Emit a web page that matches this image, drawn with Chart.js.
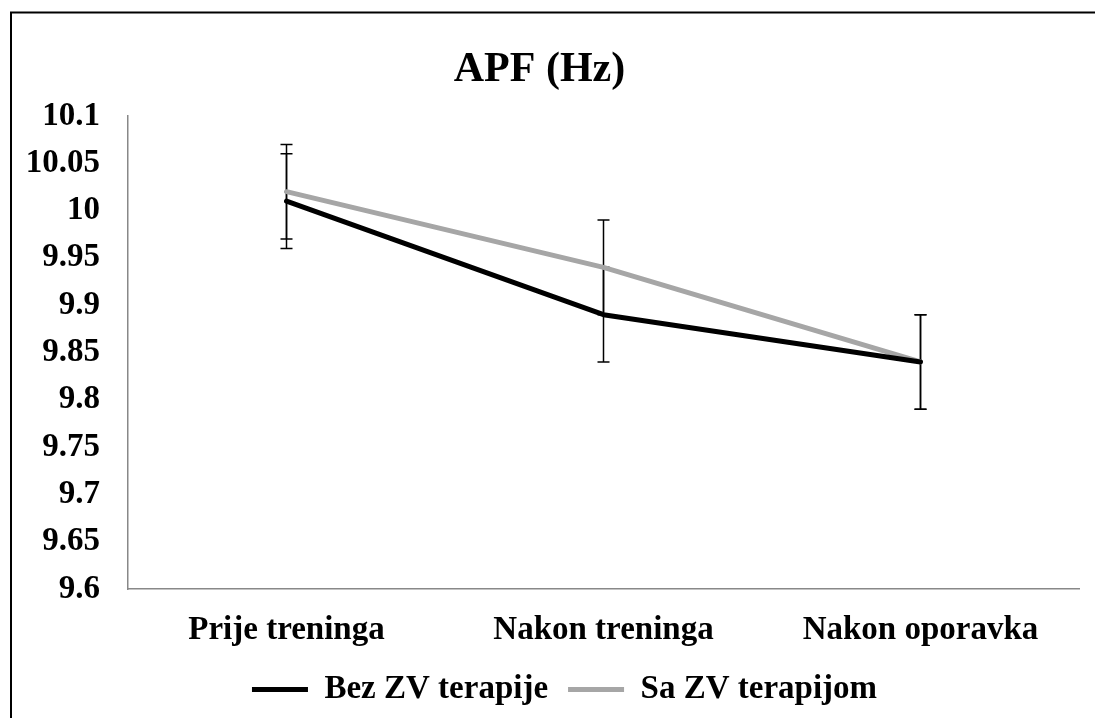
<!DOCTYPE html>
<html>
<head>
<meta charset="utf-8">
<script src="https://cdn.jsdelivr.net/npm/chart.js@4/dist/chart.umd.min.js"></script>
<style>
  html, body { margin: 0; padding: 0; background: #ffffff; }
  #wrap { width: 1095px; height: 718px; position: relative; }
</style>
</head>
<body>
<div id="wrap"><canvas id="c" width="1095" height="718"></canvas></div>
<script>
const categories = ["Prije treninga", "Nakon treninga", "Nakon oporavka"];
const seriesNames = ["Bez ZV terapije", "Sa ZV terapijom"];
const bezZV = [10.01, 9.89, 9.84];
const saZV = [10.02, 9.94, 9.84];
const bezZVErr = [0.05, 0.05, 0.05];
const saZVErr = [0.05, 0.05, 0.05];
const yTickValues = [9.6, 9.65, 9.7, 9.75, 9.8, 9.85, 9.9, 9.95, 10, 10.05, 10.1];
const yTickLabels = ["9.6", "9.65", "9.7", "9.75", "9.8", "9.85", "9.9", "9.95", "10", "10.05", "10.1"];
const titleText = "APF (Hz)";

const FONT = "'Liberation Serif', 'Times New Roman', serif";

const frame = {
  id: 'frame',
  beforeDraw(chart) {
    const ctx = chart.ctx;
    ctx.save();
    ctx.fillStyle = '#ffffff';
    ctx.fillRect(0, 0, chart.width, chart.height);
    ctx.strokeStyle = '#000000';
    ctx.lineWidth = 2;
    ctx.beginPath();
    ctx.moveTo(11, chart.height);
    ctx.lineTo(11, 12.5);
    ctx.lineTo(chart.width, 12.5);
    ctx.stroke();
    ctx.restore();
  }
};

// shift the legend box so its centre matches the original's legend position
const legendShift = {
  id: 'legendShift',
  afterLayout(chart) {
    if (chart.legend) chart.legend.left = 50;
  }
};

const errorBars = {
  id: 'errorBars',
  beforeDatasetsDraw(chart) {
    const ctx = chart.ctx;
    const xs = chart.scales.x, ys = chart.scales.y;
    ctx.save();
    ctx.strokeStyle = '#000000';
    ctx.lineWidth = 1.5;
    chart.data.datasets.forEach(ds => {
      ds.data.forEach((v, i) => {
        const e = ds.errors[i];
        const x = xs.getPixelForValue(i);
        const yt = ys.getPixelForValue(v + e);
        const yb = ys.getPixelForValue(v - e);
        ctx.beginPath();
        ctx.moveTo(x, yt); ctx.lineTo(x, yb);
        ctx.moveTo(x - 6, yt); ctx.lineTo(x + 6, yt);
        ctx.moveTo(x - 6, yb); ctx.lineTo(x + 6, yb);
        ctx.stroke();
      });
    });
    ctx.restore();
  }
};

new Chart(document.getElementById('c'), {
  type: 'line',
  data: {
    labels: categories,
    datasets: [
      {
        label: seriesNames[0], data: bezZV, errors: bezZVErr,
        borderColor: '#000000', backgroundColor: '#000000',
        borderWidth: 5, pointRadius: 0, tension: 0,
        borderCapStyle: 'round', borderJoinStyle: 'round'
      },
      {
        label: seriesNames[1], data: saZV, errors: saZVErr,
        borderColor: '#a6a6a6', backgroundColor: '#a6a6a6',
        borderWidth: 5, pointRadius: 0, tension: 0,
        borderCapStyle: 'round', borderJoinStyle: 'round'
      }
    ]
  },
  options: {
    responsive: false,
    animation: false,
    devicePixelRatio: 1,
    layout: { padding: { left: 0, right: 16, top: 0, bottom: 2 } },
    plugins: {
      title: {
        display: true, text: titleText, color: '#000000',
        font: { family: FONT, size: 42, weight: 'bold', lineHeight: 1.2 },
        padding: { top: 45, bottom: 20.6 }
      },
      legend: {
        display: true, position: 'bottom',
        labels: {
          color: '#000000',
          font: { family: FONT, size: 33, weight: 'bold' },
          usePointStyle: true, pointStyle: 'line', pointStyleWidth: 56,
          boxHeight: 33, padding: 20
        }
      },
      tooltip: { enabled: false }
    },
    scales: {
      x: {
        offset: true,
        grid: { display: false, drawTicks: false, offset: true },
        border: { display: true, color: '#888888', width: 1.5 },
        ticks: { color: '#000000', font: { family: FONT, size: 33, weight: 'bold' }, padding: 22, maxRotation: 0, autoSkip: false },
        afterFit(s) { s.height = 64; }
      },
      y: {
        min: 9.6, max: 10.1,
        grid: { display: false, drawTicks: false },
        border: { display: true, color: '#888888', width: 1.5 },
        afterBuildTicks(s) { s.ticks = yTickValues.map(v => ({ value: v })); },
        ticks: {
          color: '#000000', font: { family: FONT, size: 33, weight: 'bold' }, padding: 28,
          callback(value) {
            const idx = yTickValues.findIndex(t => Math.abs(t - value) < 1e-9);
            return idx >= 0 ? yTickLabels[idx] : '';
          }
        },
        afterFit(s) { s.width = 128; }
      }
    }
  },
  plugins: [frame, errorBars, legendShift]
});
</script>
</body>
</html>
